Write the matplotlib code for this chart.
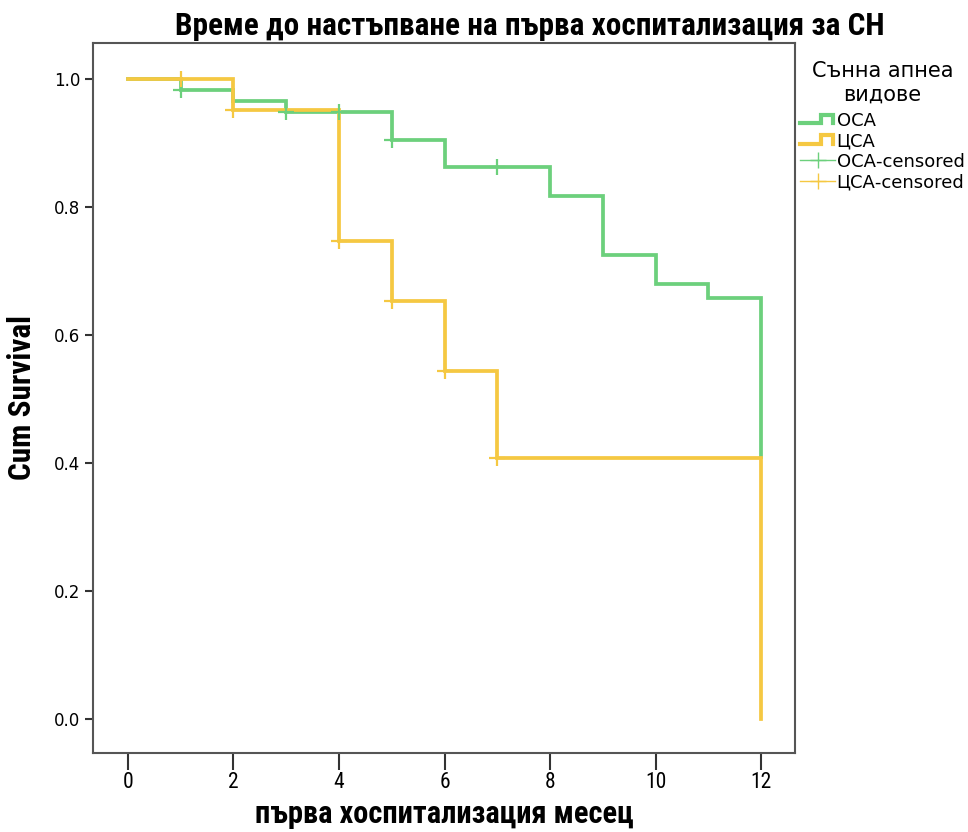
import matplotlib
matplotlib.use("Agg")
import matplotlib.pyplot as plt
from matplotlib.lines import Line2D
from matplotlib.legend_handler import HandlerBase
from matplotlib import font_manager

# ---- data ----
osa_times = [0, 1, 2, 3, 5, 6, 8, 9, 10, 11, 12]
osa_surv = [1.0, 0.983, 0.966, 0.948, 0.905, 0.862, 0.817, 0.725, 0.680, 0.658, 0.409]
osa_cens_t = [1, 3, 4, 5, 7]

csa_times = [0, 2, 4, 5, 6, 7, 12]
csa_surv = [1.0, 0.952, 0.746, 0.653, 0.544, 0.408, 0.0]
csa_cens_t = [1, 2, 4, 5, 6, 7]

x_ticks = [0, 2, 4, 6, 8, 10, 12]
y_ticks = [0.0, 0.2, 0.4, 0.6, 0.8, 1.0]

title = "Време до настъпване на първа хоспитализация за СН"
xlabel = "първа хоспитализация месец"
ylabel = "Cum Survival"
legend_title = "Сънна апнеа\nвидове"
labels = ["ОСА", "ЦСА", "ОСА-censored", "ЦСА-censored"]

GREEN = "#6CD07C"
YELLOW = "#F5C842"

names = {f.name for f in font_manager.fontManager.ttflist}
narrow = "DejaVu Sans"
for cand in ["Roboto Condensed", "Fira Sans Condensed", "PT Sans Narrow", "Open Sans Condensed", "Archivo Narrow"]:
    if cand in names:
        narrow = cand
        break

def surv_at(times, surv, t):
    v = surv[0]
    for tt, s in zip(times, surv):
        if tt <= t:
            v = s
    return v

fig = plt.figure(figsize=(9.68, 8.32), dpi=100)
ax = fig.add_axes([93/968, 1-753/832, (795-93)/968, (753-43)/832])

ax.step(osa_times, osa_surv, where="post", color=GREEN, lw=2.7, solid_joinstyle="miter")
ax.step(csa_times, csa_surv, where="post", color=YELLOW, lw=2.7, solid_joinstyle="miter")

ax.plot(osa_cens_t, [surv_at(osa_times, osa_surv, t) for t in osa_cens_t],
        ls="none", marker="+", ms=11, mew=1.6, color=GREEN)
ax.plot(csa_cens_t, [surv_at(csa_times, csa_surv, t) for t in csa_cens_t],
        ls="none", marker="+", ms=11, mew=1.6, color=YELLOW)

ax.set_xlim(-0.66, 12.64)
ax.set_ylim(-0.053, 1.056)
ax.set_xticks(x_ticks)
ax.set_yticks(y_ticks)
ax.set_yticklabels([f"{v:.1f}" for v in y_ticks])
for s in ax.spines.values():
    s.set_color("#555555")
    s.set_linewidth(1.5)
ax.tick_params(axis="x", length=12, width=1.5, color="#333333", pad=2)
ax.tick_params(axis="y", length=6, width=1.5, color="#333333", labelsize=12, pad=3)
for lab in ax.get_xticklabels():
    lab.set_fontfamily(narrow)
    lab.set_fontsize(15.5)

ax.set_title(title, fontsize=22.5, fontweight="bold", family=narrow, pad=6, x=0.622)
ax.set_xlabel(xlabel, fontsize=22, fontweight="bold", family=narrow, labelpad=4)
ax.set_ylabel(ylabel, fontsize=22.5, fontweight="bold", family=narrow, labelpad=12)


class HandlerStep(HandlerBase):
    def __init__(self, color):
        super().__init__()
        self.color = color

    def create_artists(self, legend, orig_handle, xdescent, ydescent, width, height, fontsize, trans):
        x0, x1 = -xdescent, -xdescent + width
        xm = x0 + 0.6 * width
        ylo = -ydescent + 0.2 * height
        yhi = -ydescent + 0.85 * height
        ln = Line2D([x0, xm, xm, x1 - 1, x1 - 1], [ylo, ylo, yhi, yhi, ylo],
                    color=self.color, lw=3, solid_joinstyle="miter", transform=trans)
        return [ln]


h1 = Line2D([], [], color=GREEN)
h2 = Line2D([], [], color=YELLOW)
h3 = Line2D([], [], color=GREEN, lw=1, marker="+", ms=11, mew=1)
h4 = Line2D([], [], color=YELLOW, lw=1, marker="+", ms=11, mew=1)
leg = fig.legend([h1, h2, h3, h4], labels, loc="upper left",
                 bbox_to_anchor=(795/968, 1-56/832), frameon=False,
                 handler_map={h1: HandlerStep(GREEN), h2: HandlerStep(YELLOW)},
                 title=legend_title, fontsize=13, title_fontsize=15,
                 handlelength=1.9, handletextpad=0.1, labelspacing=0.14,
                 borderaxespad=0, borderpad=0.3)
leg.get_title().set_multialignment("center")
leg._legend_box.sep = 5

fig.savefig("out.png", dpi=100)
